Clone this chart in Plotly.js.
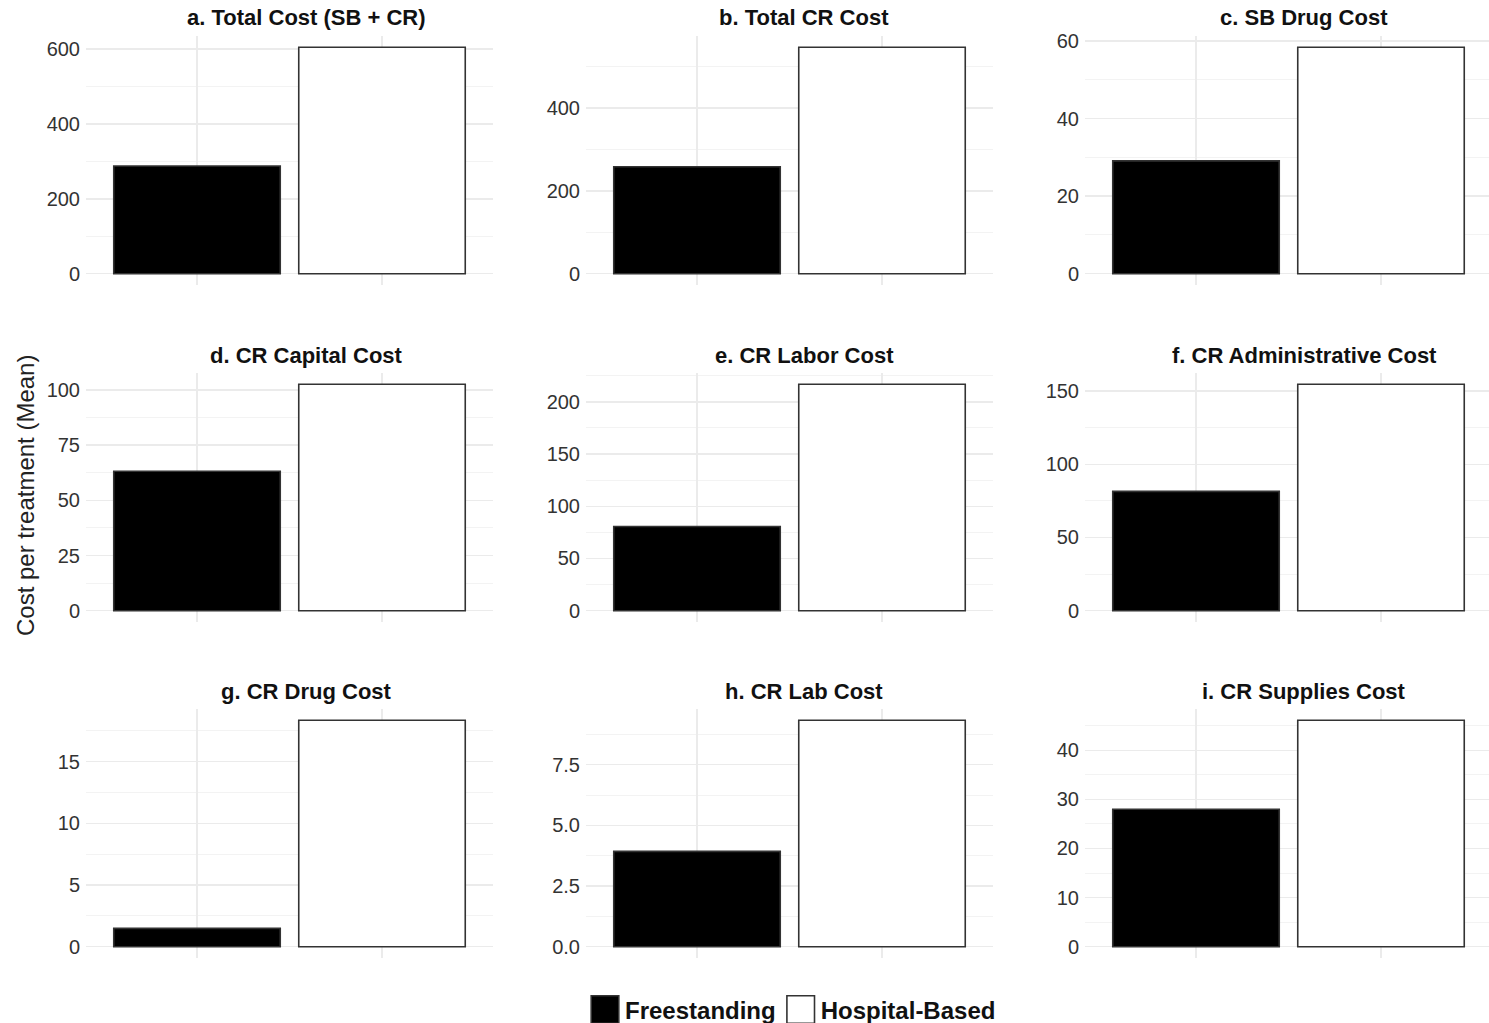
<!DOCTYPE html>
<html>
<head>
<meta charset="utf-8">
<script src="https://cdn.plot.ly/plotly-3.0.1.min.js"></script>
<style>html,body{margin:0;padding:0;background:#fff;overflow:hidden;}#chart{width:1489px;height:1023px;}</style>
</head>
<body>
<div id="chart"></div>
<script>
// ---- data ----
const categories = ['Freestanding', 'Hospital-Based'];
const panelTitles = [
  'a. Total Cost (SB + CR)', 'b. Total CR Cost', 'c. SB Drug Cost',
  'd. CR Capital Cost', 'e. CR Labor Cost', 'f. CR Administrative Cost',
  'g. CR Drug Cost', 'h. CR Lab Cost', 'i. CR Supplies Cost'
];
const freestanding = [288, 258, 29.1, 63.2, 80.6, 81.5, 1.48, 3.93, 28.0];
const hospitalBased = [605, 546, 58.4, 102.6, 216.8, 154.6, 18.34, 9.33, 46.1];
const majorTickStep = [200, 200, 20, 25, 50, 50, 5, 2.5, 10];
const tickFormats = ['', '', '', '', '', '', '', '.1f', ''];
const yAxisTitle = 'Cost per treatment (Mean)';

// ---- layout geometry (pixels) ----
const W = 1489, H = 1023;
const colX = [[86, 493], [586, 993], [1085, 1489]];
const rowY = [[36, 285], [373, 622], [709, 958]];
const titleCX = [306, 804, 1304];
const unitPx = 185; // pixels per category unit (ggplot discrete axis)

const fillColors = ['#000000', '#ffffff'];
const font = 'Liberation Sans, Arial, Helvetica, sans-serif';

const traces = [];
const layout = {
  width: W, height: H, autosize: false,
  margin: {l: 0, r: 0, t: 0, b: 0, pad: 0, autoexpand: false},
  paper_bgcolor: '#fff', plot_bgcolor: '#fff',
  barmode: 'overlay',
  showlegend: true,
  font: {family: font, color: '#333'},
  legend: {
    orientation: 'h', x: 793 / W, xanchor: 'center', y: 1 - 1010 / H, yanchor: 'middle',
    font: {family: font, size: 24, color: '#111', weight: 'bold'},
    itemwidth: 30, tracegroupgap: 0, bgcolor: 'rgba(0,0,0,0)'
  },
  annotations: [],
  shapes: []
};

for (let i = 0; i < 9; i++) {
  const r = Math.floor(i / 3), c = i % 3;
  const xa = 'x' + (i === 0 ? '' : i + 1);
  const ya = 'y' + (i === 0 ? '' : i + 1);
  const vals = [freestanding[i], hospitalBased[i]];
  const maxV = Math.max.apply(null, vals);
  categories.forEach((cat, k) => {
    traces.push({
      type: 'bar', x: [cat], y: [vals[k]], xaxis: xa, yaxis: ya,
      name: cat, legendgroup: cat, showlegend: i === 0,
      width: 0.9,
      marker: {color: fillColors[k], line: {color: '#333', width: 1.6}},
      hoverinfo: 'x+y'
    });
  });
  const [x0, x1] = colX[c];
  const [y0, y1] = rowY[r];
  const spanUnits = (x1 - x0) / unitPx;
  layout['xaxis' + (i === 0 ? '' : i + 1)] = {
    domain: [x0 / W, x1 / W], anchor: ya, automargin: false,
    type: 'category', categoryorder: 'array', categoryarray: categories,
    range: [-0.6, -0.6 + spanUnits],
    showticklabels: false, ticks: '', showline: false, zeroline: false,
    showgrid: true, gridcolor: '#ebebeb', gridwidth: 1.5, fixedrange: true
  };
  const step = majorTickStep[i];
  layout['yaxis' + (i === 0 ? '' : i + 1)] = {
    domain: [1 - y1 / H, 1 - y0 / H], anchor: xa, automargin: false,
    range: [-0.05 * maxV, 1.05 * maxV],
    tick0: 0, dtick: step, tickformat: tickFormats[i],
    tickfont: {family: font, size: 20, color: '#333'},
    ticks: '', ticklabelstandoff: 5,
    showline: false, zeroline: false,
    showgrid: true, gridcolor: '#ebebeb', gridwidth: 1.5,
    minor: {dtick: step / 2, tick0: 0, showgrid: true, gridcolor: '#f3f3f3', gridwidth: 1},
    fixedrange: true
  };
  layout.annotations.push({
    text: panelTitles[i], xref: 'paper', yref: 'paper',
    x: titleCX[c] / W, y: 1 - (y0 - 18) / H, xanchor: 'center', yanchor: 'middle',
    showarrow: false, font: {family: font, size: 22, color: '#111', weight: 'bold'}
  });
}

layout.annotations.push({
  text: yAxisTitle, xref: 'paper', yref: 'paper',
  x: 25 / W, y: 1 - 496 / H, xanchor: 'center', yanchor: 'middle',
  textangle: -90, showarrow: false, font: {family: font, size: 24, color: '#222'}
});

Plotly.newPlot('chart', traces, layout, {displayModeBar: false, staticPlot: true}).then(gd => {
  // enlarge the legend swatches to match the reference key size
  gd.querySelectorAll('.legend .legendpoints path').forEach(p => {
    const t = p.getAttribute('transform') || '';
    p.setAttribute('transform', t + ' scale(2.3)');
    p.style.strokeWidth = (1.6 / 2.3) + 'px';
  });
});
</script>
</body>
</html>
